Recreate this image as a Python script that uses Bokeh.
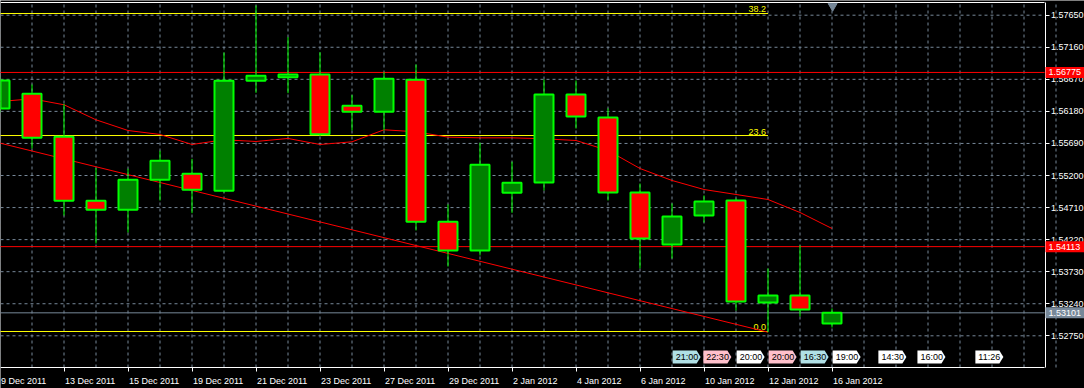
from bokeh.plotting import figure
from bokeh.models import Range1d, FixedTicker, LinearAxis, PrintfTickFormatter
from bokeh.core.properties import value
from bokeh.embed import file_html
from bokeh.resources import INLINE

# ---------------- data ----------------
dates = ["9 Dec 2011", "12 Dec 2011", "13 Dec 2011", "14 Dec 2011", "15 Dec 2011",
         "16 Dec 2011", "19 Dec 2011", "20 Dec 2011", "21 Dec 2011", "22 Dec 2011",
         "23 Dec 2011", "26 Dec 2011", "27 Dec 2011", "28 Dec 2011", "29 Dec 2011",
         "30 Dec 2011", "2 Jan 2012", "3 Jan 2012", "4 Jan 2012", "5 Jan 2012",
         "6 Jan 2012", "9 Jan 2012", "10 Jan 2012", "11 Jan 2012", "12 Jan 2012",
         "13 Jan 2012", "16 Jan 2012"]
opens = [1.56224, 1.56449, 1.55792, 1.54814, 1.54676, 1.55134, 1.55226, 1.54966, 1.56647,
         1.56702, 1.56744, 1.56265, 1.56174, 1.56663, 1.54493, 1.54054, 1.54936, 1.55093,
         1.56438, 1.56087, 1.54940, 1.54146, 1.54589, 1.54818, 1.53259, 1.53366, 1.52938]
highs = [1.56713, 1.56591, 1.56296, 1.55312, 1.55303, 1.55578, 1.55455, 1.57080, 1.57798,
         1.57314, 1.57085, 1.56433, 1.56779, 1.56897, 1.54757, 1.55700, 1.55410, 1.56667,
         1.56652, 1.56224, 1.55078, 1.54772, 1.54895, 1.54849, 1.53779, 1.54130, 1.53168]
lows = [1.56163, 1.55613, 1.54589, 1.54161, 1.54329, 1.54818, 1.54624, 1.54940, 1.56464,
        1.56458, 1.55804, 1.55888, 1.55888, 1.54360, 1.53809, 1.53978, 1.54630, 1.54971,
        1.55918, 1.54818, 1.53779, 1.53932, 1.54482, 1.53137, 1.52805, 1.53045, 1.52877]
closes = [1.56652, 1.55776, 1.54814, 1.54676, 1.55134, 1.55425, 1.54982, 1.56647, 1.56724,
          1.56744, 1.55831, 1.56174, 1.56678, 1.54493, 1.54054, 1.55364, 1.55089, 1.56438,
          1.56102, 1.54940, 1.54237, 1.54574, 1.54803, 1.53275, 1.53366, 1.53152, 1.53101]
ma_values = [1.56331, 1.56372, 1.56281, 1.56051, 1.55888, 1.55827, 1.55674, 1.55746, 1.55720,
             1.55766, 1.55674, 1.55715, 1.55899, 1.55868, 1.55786, 1.55776, 1.55776, 1.55761,
             1.55735, 1.55582, 1.55307, 1.55124, 1.54986, 1.54910, 1.54833, 1.54635, 1.54390]
price_ticks = [1.57650, 1.57160, 1.56670, 1.56180, 1.55690, 1.55200, 1.54710, 1.54220,
               1.53730, 1.53240, 1.52750]
fib_names = ["38.2", "23.6", "0.0"]
fib_prices = [1.57676, 1.55811, 1.52816]
trend_x = [0.0, 24.0]
trend_y = [1.55695, 1.52805]
red_levels = [1.56775, 1.54113]
bid_price = 1.53101
event_x = [21.02, 21.98, 23.02, 24.02, 25.02, 26.02, 27.45, 28.67, 30.48]
event_labels = ["21:00", "22:30", "20:00", "20:00", "16:30", "19:00", "14:30", "16:00", "11:26"]
event_colors = ["#b0e0e6", "#ffc0cb", "#ffffff", "#ffc0cb", "#b0e0e6", "#ffffff",
                "#ffffff", "#ffffff", "#ffffff"]

# ---------------- layout helpers (pixel placement) ----------------
W, H = 1084, 388
PX = 32.0                      # pixels per bar
X0 = 0.5 / PX                  # index at the left canvas edge
DY = 0.055785 / 365.0          # price per pixel
YT = 1.578441 + 2 * DY         # price at the top canvas edge
CH_R, CH_T, CH_B = 1044, 2, 367


def xpx(px):
    return X0 + px / PX


def ypx(py):
    return YT - py * DY


FONT = "Liberation Sans"
GRID = "#778899"
n = len(dates)
idx = list(range(n))

p = figure(width=W, height=H, x_range=Range1d(xpx(0), xpx(W)), y_range=Range1d(ypx(H), ypx(0)),
           x_axis_location=None, y_axis_location=None, output_backend="svg",
           toolbar_location=None, background_fill_color="black", border_fill_color="black",
           min_border=0, outline_line_color=None)
p.grid.visible = False

# dashed grid limited to the chart area
gx = list(range(-1, 34))
p.segment(x0=gx, x1=gx, y0=[ypx(CH_B)] * len(gx), y1=[ypx(CH_T)] * len(gx),
          line_color=GRID, line_dash="3 3", line_width=1)
p.segment(x0=[xpx(0)] * len(price_ticks), x1=[xpx(CH_R)] * len(price_ticks),
          y0=price_ticks, y1=price_ticks, line_color=GRID, line_dash="3 3", line_width=1)

# price axis (right) and time axis (bottom)
yax = LinearAxis(fixed_location=xpx(CH_R + 0.5), bounds=(ypx(CH_B), ypx(CH_T)),
                 ticker=FixedTicker(ticks=price_ticks), formatter=PrintfTickFormatter(format="%.5f"),
                 axis_line_color="white", major_tick_line_color="white", major_tick_out=4,
                 major_tick_in=0, minor_tick_line_color=None, major_label_text_color="white",
                 major_label_text_font=FONT, major_label_text_font_size="9px",
                 major_label_standoff=2)
p.add_layout(yax, "right")
even = list(range(0, n, 2))
xax = LinearAxis(fixed_location=ypx(CH_B - 0.5), bounds=(xpx(0), xpx(CH_R)),
                 ticker=FixedTicker(ticks=even), major_label_overrides={i: "" for i in even},
                 major_label_text_font_size="1px", axis_line_color="white",
                 major_tick_line_color="white", major_tick_out=4, major_tick_in=0,
                 minor_tick_line_color=None)
p.add_layout(xax, "below")

# top border line
p.segment(x0=[xpx(0)], x1=[xpx(CH_R)], y0=[ypx(CH_T)], y1=[ypx(CH_T)],
          line_color="white", line_width=1)

# horizontal price levels
for lv, col in ((red_levels[0], "#ff0000"), (red_levels[1], "#ff0000"), (bid_price, GRID)):
    p.segment(x0=[xpx(-1)], x1=[xpx(CH_R)], y0=[lv], y1=[lv], line_color=col, line_width=1)

# fibonacci levels
p.segment(x0=[-1] * len(fib_prices), x1=[24] * len(fib_prices), y0=fib_prices, y1=fib_prices,
          line_color="#ffff00", line_width=1)
p.text(x=[24 - 2 / PX] * len(fib_prices), y=[v + DY for v in fib_prices],
       text=fib_names, text_color="#ffff00", text_font=value(FONT), text_font_size="9px",
       text_align="right", text_baseline="bottom")

# trend line and moving average
p.line(trend_x, trend_y, line_color="#ff0000", line_width=1)
p.line(idx, ma_values, line_color="#ff0000", line_width=1)

# candles
p.segment(x0=idx, x1=idx, y0=lows, y1=highs, line_color="#00ff00", line_width=1)
bw = 19 / PX
up = [i for i in idx if closes[i] >= opens[i]]
dn = [i for i in idx if closes[i] < opens[i]]
p.vbar(x=up, width=bw, bottom=[opens[i] for i in up], top=[closes[i] for i in up],
       fill_color="#008000", line_color="#00ff00", line_width=2)
p.vbar(x=dn, width=bw, bottom=[closes[i] for i in dn], top=[opens[i] for i in dn],
       fill_color="#ff0000", line_color="#00ff00", line_width=2)

# chart-shift marker
p.scatter(x=[26.02], y=[ypx(5.5)], marker="inverted_triangle", size=9, color=GRID)

# event tags
ytop, ymid, ybot = ypx(350), ypx(356.5), ypx(363)
xs, ys = [], []
for ex in event_x:
    xs.append([ex, ex + 24 / PX, ex + 28 / PX, ex + 24 / PX, ex])
    ys.append([ytop, ytop, ymid, ybot, ybot])
p.patches(xs, ys, fill_color=event_colors, line_color=None)
p.text(x=[e + 3 / PX for e in event_x], y=[ymid] * len(event_x), text=event_labels,
       text_color="black", text_font=value(FONT), text_font_size="9px",
       text_align="left", text_baseline="middle")

# date labels, left aligned at their tick
p.text(x=[i + 1 / PX for i in even], y=[ypx(380)] * len(even), text=[dates[i] for i in even],
       text_color="white", text_font=value(FONT), text_font_size="9px",
       text_align="left", text_baseline="alphabetic")

# price tags over the axis
tag_vals = [red_levels[0], red_levels[1], bid_price]
tag_cols = ["#ff0000", "#ff0000", GRID]
p.rect(x=[xpx(1064.5)] * 3, y=tag_vals, width=39 / PX, height=11 * DY,
       fill_color=tag_cols, line_color=None, level="annotation")
p.text(x=[xpx(1048)] * 3, y=tag_vals, text=["%.5f" % v for v in tag_vals],
       text_color="white", text_font=value(FONT), text_font_size="9px",
       text_align="left", text_baseline="middle", level="annotation")

open("out.html", "w").write(file_html(p, INLINE))
